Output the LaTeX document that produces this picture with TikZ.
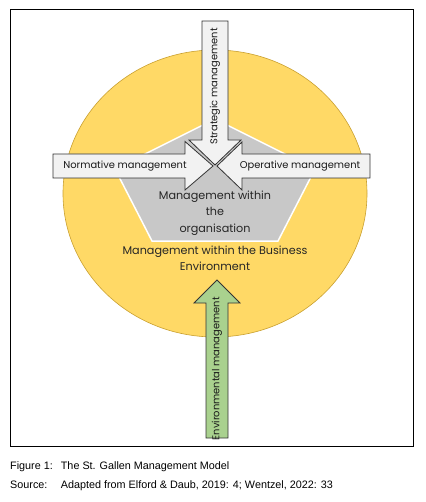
\documentclass[tikz,border=0pt]{standalone}
\usepackage{fontspec}
\setmainfont{Liberation Sans}
\newfontfamily\geo{Poppins}
\begin{document}
\begin{tikzpicture}[x=1pt,y=-1pt,
  blockarrow/.style={fill=arrowgray,draw=black!80,line width=0.8pt,line join=miter},
  greenarrow/.style={fill=envgreen,draw=black!80,line width=0.8pt,line join=miter},
  arrowtext/.style={font=\geo\fontsize{9.9}{10}\selectfont,text=black!90,inner sep=0pt},
  midtext/.style={font=\geo\fontsize{11.2}{16.5}\selectfont,text=black!85,align=center,inner sep=0pt},
  captext/.style={font=\fontsize{10.8}{12}\selectfont,anchor=base west,inner sep=0pt}]
\definecolor{arrowgray}{HTML}{F2F2F2}
\definecolor{envgreen}{HTML}{A9D18E}
\definecolor{gold}{HTML}{FFD966}
\definecolor{goldline}{HTML}{C9A030}
\definecolor{pentgray}{HTML}{C8C8C8}
\useasboundingbox (0,0) rectangle (425,502);
% frame
\draw[line width=0.9pt] (10,9.5) rectangle (413.7,446.7);
% circle
\fill[gold,draw=goldline,line width=0.6pt] (215,193.5) ellipse [x radius=152, y radius=143.5];
% pentagon
\fill[pentgray,draw=white,line width=1.5pt] (215,119) -- (315,169) -- (278,241) -- (152,241) -- (115,169) -- cycle;
% middle texts
\node[midtext] (org) at (215,213) {Management within\\the\\organisation};
\node[midtext] (env) at (215,258.5) {Management within the Business\\Environment};
% arrows
\draw[blockarrow] (53,154) -- (185,154) -- (185,141.5) -- (213,166) -- (185,190) -- (185,178) -- (53,178) -- cycle;
\draw[blockarrow] (370,154) -- (242,154) -- (242,142) -- (217,166) -- (242,190) -- (242,178) -- (370,178) -- cycle;
\draw[blockarrow] (202,21) -- (228,21) -- (228,140) -- (241,140) -- (215,165) -- (189,140) -- (202,140) -- cycle;
\draw[greenarrow] (206,438) -- (228,438) -- (228,303) -- (240,303) -- (217,280) -- (194,303) -- (206,303) -- cycle;
\node[arrowtext] (norm) at (125,166) {Normative management};
\node[arrowtext] (oper) at (300,166) {Operative management};
\node[arrowtext,rotate=90] (strat) at (215,86.5) {Strategic management};
\node[arrowtext,rotate=90] (envm) at (217,368.7) {Environmental management};
% caption
\node[captext] (fig) at (10,469.5) {Figure 1:};
\node[captext] (figt) at (60.7,469.5) {The St. Gallen Management Model};
\node[captext] (src) at (10,488) {Source:};
\node[captext] (srct) at (60.7,488) {Adapted from Elford \& Daub, 2019: 4; Wentzel, 2022: 33};
\end{tikzpicture}
\end{document}
